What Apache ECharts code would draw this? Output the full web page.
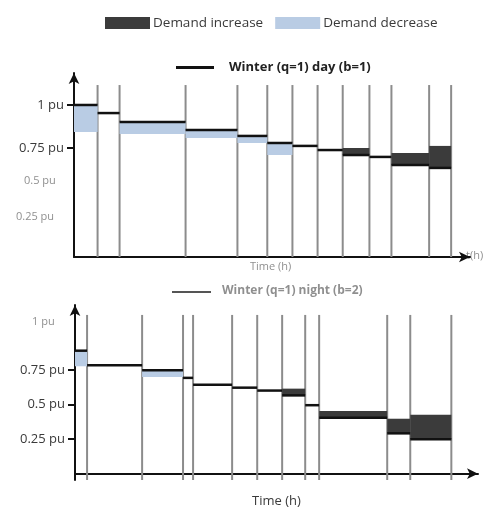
<!DOCTYPE html>
<html>
<head>
<meta charset="utf-8">
<script src="https://cdn.jsdelivr.net/npm/echarts@6/dist/echarts.min.js"></script>
<style>
  html, body { margin: 0; padding: 0; background: #fff; }
  #main { width: 484px; height: 509px; }
</style>
</head>
<body>
<div id="main"></div>
<script>
// top panel: winter day (time in h, level in pu)
const topBounds = [0, 1.5, 2.9, 7.1, 10.4, 12.3, 13.9, 15.5, 17.1, 18.8, 20.2, 22.6, 24]
const topLevel = [1.0, 0.953, 0.901, 0.855, 0.82, 0.779, 0.762, 0.738, 0.709, 0.698, 0.651, 0.634]
const topDecrease = [0.843, null, 0.831, 0.808, 0.779, 0.709, null, null, null, null, null, null]
const topIncrease = [null, null, null, null, null, null, null, null, 0.75, null, 0.721, 0.762]

// bottom panel
const botBounds = [0, 0.77, 4.28, 6.89, 7.53, 10.02, 11.62, 13.21, 14.68, 15.57, 19.91, 21.38, 24]
const botLevel = [0.891, 0.785, 0.75, 0.694, 0.644, 0.623, 0.602, 0.567, 0.496, 0.405, 0.292, 0.25]
const botDecrease = [0.778, null, 0.70, null, null, null, null, null, null, null, null, null]
const botIncrease = [null, null, null, null, null, null, null, 0.616, null, 0.454, 0.398, 0.426]

const topTicks = [0.75, 1]
const botTicks = [0.25, 0.5, 0.75]

const nameInc = 'Demand increase'
const nameDec = 'Demand decrease'
const nameLine = 'Winter (q=1) day (b=1)'

const segs = (b, lv) => lv.map((v, i) => [b[i], b[i + 1], v])
const bands = (b, lv, edge) => {
  const out = []
  edge.forEach((e, i) => { if (e !== null) out.push([b[i], b[i + 1], lv[i], e]) })
  return out
}

const renderLevel = (params, api) => {
  const p0 = api.coord([api.value(0), api.value(2)])
  const p1 = api.coord([api.value(1), api.value(2)])
  return { type: 'line', shape: { x1: p0[0], y1: p0[1], x2: p1[0], y2: p1[1] }, style: { stroke: '#111', lineWidth: 2.5 } }
}
const renderBand = (color) => (params, api) => {
  const p0 = api.coord([api.value(0), Math.max(api.value(2), api.value(3))])
  const p1 = api.coord([api.value(1), Math.min(api.value(2), api.value(3))])
  return { type: 'rect', shape: { x: p0[0], y: p0[1], width: p1[0] - p0[0], height: p1[1] - p0[1] }, style: { fill: color } }
}
const renderVert = (yTop) => (params, api) => {
  const p0 = api.coord([api.value(0), api.value(1)])
  const p1 = api.coord([api.value(0), yTop])
  return { type: 'line', shape: { x1: p0[0], y1: p0[1], x2: p1[0], y2: p1[1] }, style: { stroke: '#8c8c8c', lineWidth: 2 } }
}

const topMin = 0.116, topMax = 1.186
const botMin = -0.046, botMax = 1.222

const panelSeries = (idx, b, lv, dec, inc, yMin, yTop) => [
  {
    type: 'custom', xAxisIndex: idx, yAxisIndex: idx, z: 1, silent: true,
    renderItem: renderVert(yTop),
    data: b.slice(1).map(x => [x, yMin])
  },
  {
    name: nameDec, type: 'custom', xAxisIndex: idx, yAxisIndex: idx, z: 2,
    itemStyle: { color: '#b9cce4' },
    renderItem: renderBand('#b9cce4'),
    data: bands(b, lv, dec)
  },
  {
    name: nameInc, type: 'custom', xAxisIndex: idx, yAxisIndex: idx, z: 2,
    itemStyle: { color: '#3b3b3b' },
    renderItem: renderBand('#3b3b3b'),
    data: bands(b, lv, inc)
  },
  {
    name: nameLine, type: 'custom', xAxisIndex: idx, yAxisIndex: idx, z: 3,
    itemStyle: { color: '#111' },
    renderItem: renderLevel,
    data: segs(b, lv)
  }
]

const axisLine = { lineStyle: { color: '#111', width: 2 }, symbol: ['none', 'arrow'], symbolSize: [8, 11] }
const font = 'Open Sans'
const blur = { fill: '#6a6a6a', font: '11px "Open Sans"', opacity: 0.75 }

const chart = echarts.init(document.getElementById('main'))
chart.setOption({
  animation: false,
  textStyle: { fontFamily: font },
  legend: [
    {
      data: [nameInc, nameDec], left: 100, top: 11, icon: 'rect',
      itemWidth: 45, itemHeight: 12, itemGap: 12, selectedMode: false,
      textStyle: { fontSize: 13.5, color: '#3a3a3a', fontFamily: font, padding: [0, 0, 0, -2] }
    },
    {
      data: [nameLine], left: 171, top: 56, icon: 'rect',
      itemWidth: 38, itemHeight: 3, selectedMode: false,
      textStyle: { fontSize: 13, color: '#222', fontWeight: 'bold', fontFamily: font, padding: [0, 0, 0, 10] }
    }
  ],
  grid: [
    { left: 74, right: 14, top: 73, bottom: 252 },
    { left: 75, right: 6, top: 305, bottom: 24 }
  ],
  xAxis: [
    { type: 'value', gridIndex: 0, min: 0, max: 25.2, axisLine, axisTick: { show: false }, axisLabel: { show: false }, splitLine: { show: false } },
    { type: 'value', gridIndex: 1, min: 0, max: 25.7, axisLine, axisTick: { show: false }, axisLabel: { show: false }, splitLine: { show: false },
      name: 'Time (h)', nameLocation: 'middle', nameGap: 15, nameTextStyle: { fontSize: 13, color: '#3a3a3a', fontFamily: font } }
  ],
  yAxis: [
    { type: 'value', gridIndex: 0, min: topMin, max: topMax, axisLine: { show: true, ...axisLine }, splitLine: { show: false },
      axisTick: { show: true, customValues: topTicks, length: 7, lineStyle: { color: '#111', width: 2 } },
      axisLabel: { customValues: topTicks, formatter: v => v + ' pu', fontSize: 13, color: '#3a3a3a', margin: 10 } },
    { type: 'value', gridIndex: 1, min: botMin, max: botMax, axisLine: { show: true, ...axisLine }, splitLine: { show: false },
      axisTick: { show: true, customValues: botTicks, length: 7, lineStyle: { color: '#111', width: 2 } },
      axisLabel: { customValues: botTicks, formatter: v => v + ' pu', fontSize: 13, color: '#3a3a3a', margin: 10 } }
  ],
  graphic: [
    { type: 'text', left: 24, top: 175, style: { text: '0.5 pu', ...blur } },
    { type: 'text', left: 16, top: 211, style: { text: '0.25 pu', ...blur } },
    { type: 'text', left: 250, top: 261, style: { text: 'Time (h)', ...blur } },
    { type: 'text', left: 466, top: 250, style: { text: 't(h)', ...blur } },
    { type: 'line', shape: { x1: 172, y1: 292, x2: 211, y2: 292 }, style: { stroke: '#555', lineWidth: 2 } },
    { type: 'text', left: 222, top: 285, style: { text: 'Winter (q=1) night (b=2)', ...blur, font: 'bold 12px "Open Sans"' } },
    { type: 'text', left: 32, top: 316, style: { text: '1 pu', ...blur } }
  ],
  series: [
    ...panelSeries(0, topBounds, topLevel, topDecrease, topIncrease, topMin, 1.116),
    ...panelSeries(1, botBounds, botLevel, botDecrease, botIncrease, botMin, 1.15)
  ]
})
</script>
</body>
</html>
